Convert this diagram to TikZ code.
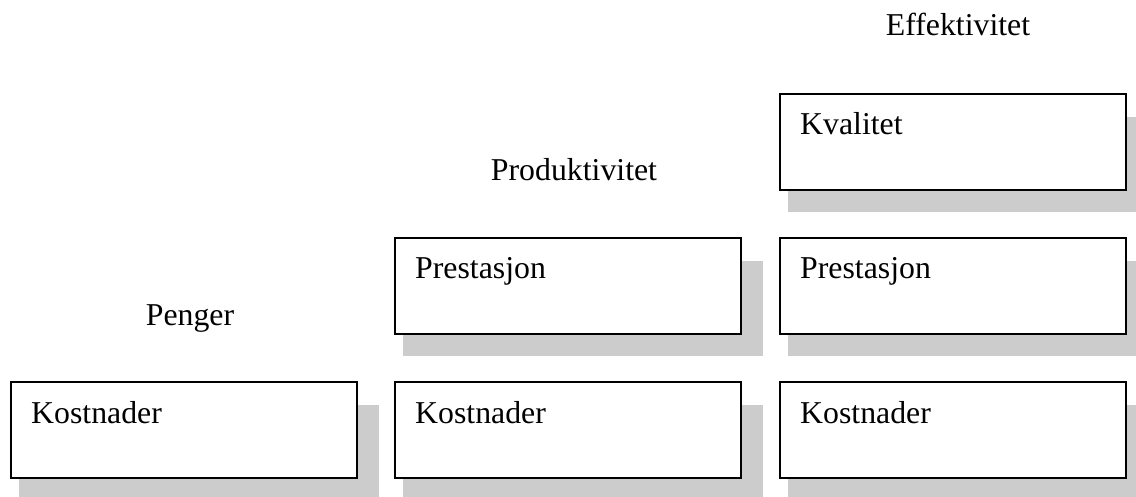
\documentclass[tikz,border=0pt]{standalone}
\usepackage{fontspec}
\setmainfont{Liberation Serif}
\usetikzlibrary{calc}
\definecolor{skygge}{HTML}{CCCCCC}
\tikzset{
  boks/.style={draw=black, fill=white, line width=1.6pt, rectangle,
    minimum width=346pt, minimum height=96pt, inner sep=0pt, anchor=north west},
  tekst/.style={anchor=base west, inner sep=0pt, font=\fontsize{31.8}{38}\selectfont},
  overskrift/.style={anchor=base, inner sep=0pt, font=\fontsize{31.8}{38}\selectfont}
}
% #1 name, #2 x, #3 y (top-left corner), #4 text
\newcommand\tavle[4]{%
  \fill[skygge] (#2+9,#3+24) rectangle (#2+369,#3+119);
  \node[boks] (#1) at (#2,#3) {};
  \node[tekst] (#1-t) at ($(#1.north west)+(21,42)$) {#4};
}
\begin{document}
\begin{tikzpicture}[x=1pt,y=-1pt]
  \useasboundingbox (0,0) rectangle (1136,497);
  \clip (0,0) rectangle (1136,497);
  % column headings
  \node[overskrift] (eff) at (958,36) {Effektivitet};
  \node[overskrift] (prod) at (574,181) {Produktivitet};
  \node[overskrift] (pen) at (190,325) {Penger};
  % money
  \tavle{k1}{10}{381}{Kostnader}
  % productivity
  \tavle{p2}{394}{237}{Prestasjon}
  \tavle{k2}{394}{381}{Kostnader}
  % efficiency
  \tavle{q3}{779}{93}{Kvalitet}
  \tavle{p3}{779}{237}{Prestasjon}
  \tavle{k3}{779}{381}{Kostnader}
\end{tikzpicture}
\end{document}
